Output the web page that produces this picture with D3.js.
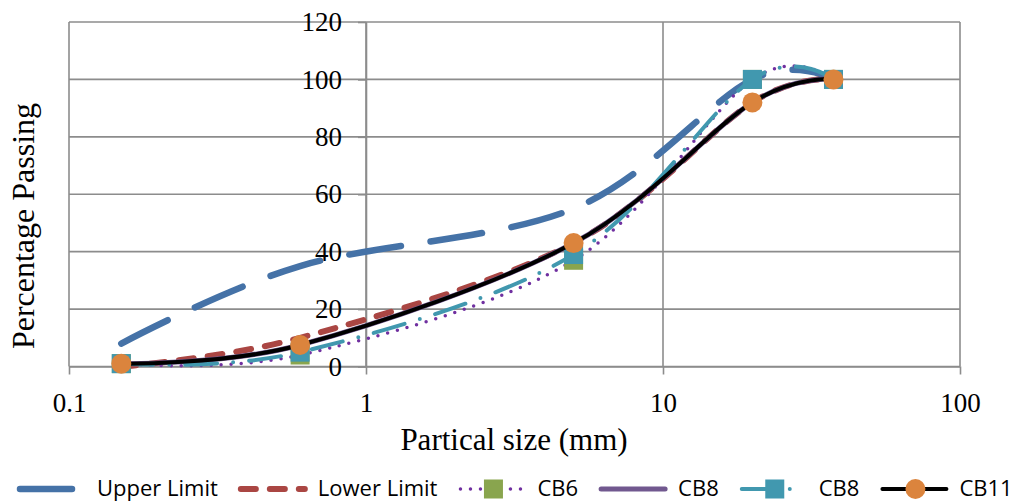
<!DOCTYPE html>
<html>
<head>
<meta charset="utf-8">
<script src="https://cdn.jsdelivr.net/npm/d3@7"></script>
<style>
  body { margin: 0; background: #fff; }
  svg { display: block; }
</style>
</head>
<body>
<svg id="chart"></svg>
<script>
// sieve sizes (mm) and percentage passing
const sizes = [0.15, 0.6, 5, 20, 37.5];
const upperLimit = [8, 35, 55, 100, 100];
const lowerLimit = [0, 10, 43, 92, 100];
const cb6 = [1, 4, 37, 100, 100];
const cb8Purple = [1, 7.5, 43, 92, 100];
const cb8Teal = [1, 5, 39, 100, 100];
const cb11 = [1, 7.5, 43, 92, 100];

const xTicks = [0.1, 1, 10, 100];
const yTicks = [0, 20, 40, 60, 80, 100, 120];

let width = 1021;
let height = 503;
let plotLeft = 69, plotRight = 960, plotTop = 22, plotBottom = 366.5;

const serif = '"Liberation Serif", "Times New Roman", serif';
const sans = '"Open Sans", "Noto Sans", sans-serif';

let svg = d3.select("#chart").attr("width", width).attr("height", height);

let xScale = d3.scaleLog().domain([0.1, 100]).range([plotLeft, plotRight]);
let yScale = d3.scaleLinear().domain([0, 120]).range([plotBottom, plotTop]);

// series table built from the arrays above
const series = [
  { name: "Upper Limit", values: upperLimit, color: "#4572A7", width: 6.5, dash: "52,30", marker: null },
  { name: "Lower Limit", values: lowerLimit, color: "#AA4643", width: 6, dash: "15,14", marker: null },
  { name: "CB6", values: cb6, color: "#7030A0", width: 3.5, dash: "0,10", marker: "square", markerColor: "#89A54E" },
  { name: "CB8", values: cb8Purple, color: "#71588F", width: 5, dash: null, marker: null },
  { name: "CB8", values: cb8Teal, color: "#4198AF", width: 4, dash: "32,16,0,16", marker: "square", markerColor: "#4198AF" },
  { name: "CB11", values: cb11, color: "#000000", width: 4, dash: null, marker: "circle", markerColor: "#DB843D" },
];

const drawGrid = () => {
  const grid = svg.append("g").attr("stroke", "#8c8c8c").attr("stroke-width", 1.6);
  grid.selectAll(".hgrid").data(yTicks).enter().append("line")
    .attr("x1", plotLeft).attr("x2", plotRight)
    .attr("y1", (d) => yScale(d)).attr("y2", (d) => yScale(d));
  grid.selectAll(".vgrid").data(xTicks).enter().append("line")
    .attr("y1", plotTop).attr("y2", plotBottom)
    .attr("x1", (d) => xScale(d)).attr("x2", (d) => xScale(d));
};

const drawAxes = () => {
  let xAxis = d3.axisBottom(xScale).tickValues(xTicks)
    .tickFormat((d) => String(d)).tickSize(8).tickSizeOuter(0).tickPadding(18);
  let yAxis = d3.axisLeft(yScale).tickValues(yTicks)
    .tickSize(8).tickSizeOuter(0).tickPadding(16);

  let gx = svg.append("g").attr("transform", `translate(0, ${plotBottom})`).call(xAxis);
  let gy = svg.append("g").attr("transform", `translate(${xScale(1)}, 0)`).call(yAxis);

  [gx, gy].forEach((g) => {
    g.select(".domain").attr("stroke", "#8c8c8c").attr("stroke-width", 1.6);
    g.selectAll(".tick line").attr("stroke", "#8c8c8c").attr("stroke-width", 1.6);
    g.selectAll(".tick text").attr("fill", "#000")
      .style("font-family", serif).style("font-size", "27px");
  });
};

const addTitles = () => {
  svg.append("text")
    .attr("x", 514).attr("y", 450)
    .attr("text-anchor", "middle")
    .style("font-family", serif).style("font-size", "31px")
    .text("Partical size (mm)");

  svg.append("text")
    .attr("transform", "translate(34, 226) rotate(-90)")
    .attr("text-anchor", "middle")
    .style("font-family", serif).style("font-size", "32px")
    .text("Percentage Passing");
};

const drawMarker = (g, type, color, cx, cy) => {
  if (type === "square") {
    g.append("rect").attr("x", cx - 9.5).attr("y", cy - 9.5)
      .attr("width", 19).attr("height", 19).attr("fill", color);
  } else if (type === "circle") {
    g.append("circle").attr("cx", cx).attr("cy", cy).attr("r", 10).attr("fill", color);
  }
};

const drawSeries = () => {
  let line = d3.line()
    .x((d) => xScale(d[0]))
    .y((d) => yScale(d[1]))
    .curve(d3.curveCardinal.tension(0));

  series.forEach((s) => {
    const pts = sizes.map((x, i) => [x, s.values[i]]);
    let g = svg.append("g");
    g.append("path")
      .datum(pts)
      .attr("d", line)
      .attr("fill", "none")
      .attr("stroke", s.color)
      .attr("stroke-width", s.width)
      .attr("stroke-linecap", "round")
      .attr("stroke-dasharray", s.dash);
    if (s.marker) {
      pts.forEach((p) => drawMarker(g, s.marker, s.markerColor, xScale(p[0]), yScale(p[1])));
    }
  });
};

const addLegend = () => {
  let x = 17;
  const ly = 489;
  series.forEach((s) => {
    let g = svg.append("g");
    g.append("line")
      .attr("x1", x + 3).attr("x2", x + 67)
      .attr("y1", ly).attr("y2", ly)
      .attr("stroke", s.color)
      .attr("stroke-width", s.width)
      .attr("stroke-linecap", "round")
      .attr("stroke-dasharray", s.dash);
    if (s.marker) drawMarker(g, s.marker, s.markerColor, x + 36, ly);
    let t = g.append("text")
      .attr("x", x + 80).attr("y", ly).attr("dy", "0.3em")
      .style("font-family", sans).style("font-size", "22px")
      .text(s.name);
    x += 80 + t.node().getComputedTextLength() + 20;
  });
};

drawGrid();
drawAxes();
drawSeries();
addTitles();
addLegend();
</script>
</body>
</html>
